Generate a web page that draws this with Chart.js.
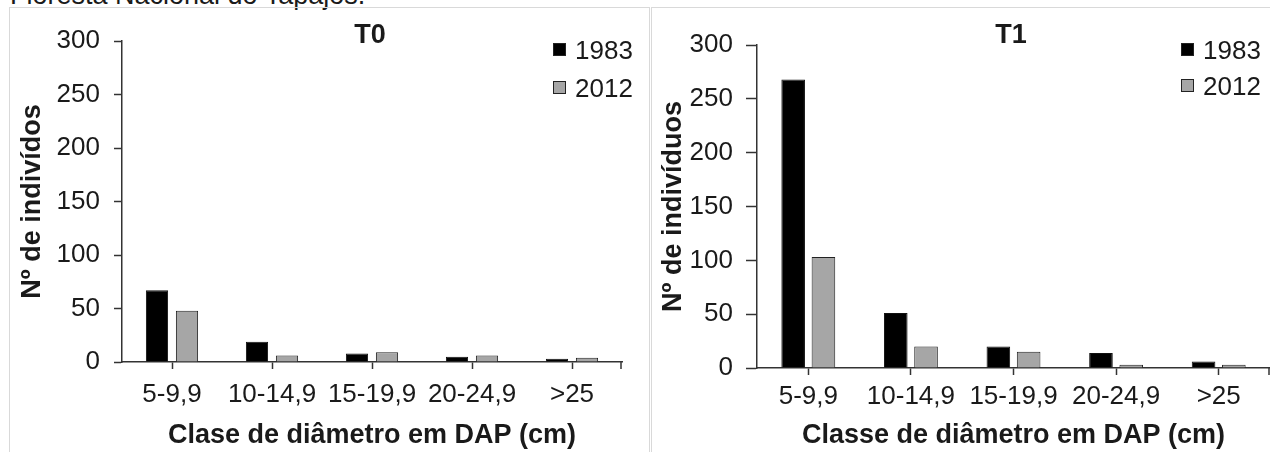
<!DOCTYPE html>
<html>
<head>
<meta charset="utf-8">
<title>Floresta Nacional do Tapajós</title>
<script src="https://cdn.jsdelivr.net/npm/chart.js@4.4.1/dist/chart.umd.min.js"></script>
<style>
    body {
        margin: 0;
        width: 1270px;
        height: 452px;
        overflow: hidden;
        position: relative;
        background: #ffffff;
        font-family: Arial, "Liberation Sans", sans-serif;
        color: #1a1a1a;
    }
    #top_text {
        position: absolute;
        left: 10px;
        top: -18px;
        font-size: 27px;
        line-height: 27px;
        white-space: nowrap;
    }
    .panel {
        position: absolute;
        top: 7px;
        height: 470px;
        border: 1px solid #d9d9d9;
    }
    #panel_t0 { left: 9px; width: 639px; }
    #panel_t1 { left: 651px; width: 640px; }
    canvas { position: absolute; top: 8px; }
    #chart_t0 { left: 10px; }
    #chart_t1 { left: 652px; }
    .chart_title {
        position: absolute;
        top: 21px;
        width: 100px;
        text-align: center;
        font-weight: bold;
        font-size: 27px;
        line-height: 27px;
    }
    .legend_box {
        position: absolute;
        width: 11px;
        height: 11px;
        border: 1px solid #222;
    }
    .legend_text {
        position: absolute;
        font-size: 26px;
        line-height: 26px;
        white-space: nowrap;
    }
</style>
</head>
<body>
<div id="top_text">Floresta Nacional do Tapajós.</div>
<div class="panel" id="panel_t0"></div>
<div class="panel" id="panel_t1"></div>
<canvas id="chart_t0" width="638" height="444"></canvas>
<canvas id="chart_t1" width="618" height="444"></canvas>
<div class="chart_title" id="title_t0" style="left:320px">T0</div>
<div class="chart_title" id="title_t1" style="left:961px">T1</div>
<div id="legend_t0"></div>
<div id="legend_t1"></div>

<script>
// Diameter classes on the x axis
const categories = ["5-9,9", "10-14,9", "15-19,9", "20-24,9", ">25"];
// Years of the two inventories
const seriesNames = ["1983", "2012"];

// T0 counts per class
const t0_1983 = [67, 19, 8, 5, 3];
const t0_2012 = [48, 6, 9, 6, 4];

// T1 counts per class
const t1_1983 = [268, 51, 20, 14, 6];
const t1_2012 = [103, 20, 15, 3, 3];

// y axis range
const yMin = 0;
const yMax = 300;
const yStep = 50;

const barColors = ["#000000", "#a6a6a6"];
const axisColor = "#333333";
const textColor = "#1a1a1a";

Chart.defaults.font.family = 'Arial, "Liberation Sans", sans-serif';
Chart.defaults.color = textColor;

// Small tick at the right end of the x axis, like the original plot
const endTick = {
    id: "endTick",
    afterDraw: function (chart) {
        let area = chart.chartArea;
        let c = chart.ctx;
        c.save();
        c.strokeStyle = axisColor;
        c.lineWidth = 1.5;
        c.beginPath();
        c.moveTo(area.right - 1, area.bottom);
        c.lineTo(area.right - 1, area.bottom + 7);
        c.stroke();
        c.restore();
    }
};

// Build one of the two bar charts
function makeChart(canvasId, values1983, values2012, o) {
    let ctx = document.getElementById(canvasId).getContext("2d");
    return new Chart(ctx, {
        type: "bar",
        data: {
            labels: categories,
            datasets: [{
                label: seriesNames[0],
                data: values1983,
                backgroundColor: barColors[0],
                borderColor: "#111111",
                borderWidth: 1
            }, {
                label: seriesNames[1],
                data: values2012,
                backgroundColor: barColors[1],
                borderColor: "#222222",
                borderWidth: 1
            }]
        },
        options: {
            responsive: false,
            animation: false,
            devicePixelRatio: 1,
            categoryPercentage: o.catPct,
            barPercentage: o.barPct,
            layout: { padding: o.padding },
            plugins: {
                legend: { display: false },
                tooltip: { enabled: false }
            },
            scales: {
                x: {
                    grid: {
                        drawOnChartArea: false,
                        drawTicks: true,
                        tickLength: 7,
                        offset: false,
                        color: axisColor,
                        tickWidth: 1.5
                    },
                    border: { color: axisColor, width: 1.5 },
                    ticks: {
                        autoSkip: false,
                        maxRotation: 0,
                        padding: o.xTickPad,
                        font: { size: 26 },
                        color: textColor
                    },
                    title: {
                        display: true,
                        text: o.xTitle,
                        font: { size: 27, weight: "bold" },
                        padding: { top: 0, bottom: 0 },
                        color: textColor
                    },
                    afterFit: function (scale) { scale.height = o.xHeight; }
                },
                y: {
                    min: yMin,
                    max: yMax,
                    grid: {
                        drawOnChartArea: false,
                        drawTicks: true,
                        tickLength: o.yTickLen,
                        color: axisColor,
                        tickWidth: 1.5
                    },
                    border: { color: axisColor, width: 1.5 },
                    ticks: {
                        stepSize: yStep,
                        padding: o.yTickPad,
                        font: { size: 26 },
                        color: textColor
                    },
                    title: {
                        display: true,
                        text: o.yTitle,
                        font: { size: 27, weight: "bold" },
                        padding: { top: o.yTitlePad, bottom: 0 },
                        color: textColor
                    },
                    afterFit: function (scale) { scale.width = o.yWidth; }
                }
            }
        },
        plugins: [endTick]
    });
}

// Legend made from the chart's own datasets, placed inside the plot
function makeLegend(chart, holderId, boxX, textX, rowTops) {
    let holder = document.getElementById(holderId);
    let content = "";
    chart.data.datasets.forEach(function (ds, i) {
        let top = rowTops[i];
        content += "<div class=\"legend_box\" style=\"left:" + boxX + "px;top:" + (top + 6) +
                   "px;background:" + ds.backgroundColor + "\"></div>";
        content += "<div class=\"legend_text\" style=\"left:" + textX + "px;top:" + top + "px\">" +
                   ds.label + "</div>";
    });
    holder.innerHTML = content;
}

let chartT0 = makeChart("chart_t0", t0_1983, t0_2012, {
    yTitle: "Nº de indivídos",
    xTitle: "Clase de diâmetro em DAP (cm)",
    padding: { top: 33, right: 26, left: 0, bottom: 0 },
    yWidth: 112,
    xHeight: 90,
    yTickLen: 8,
    yTickPad: 14,
    xTickPad: 10,
    yTitlePad: 6,
    catPct: 0.6,
    barPct: 0.74
});

let chartT1 = makeChart("chart_t1", t1_1983, t1_2012, {
    yTitle: "Nº de indivíduos",
    xTitle: "Classe de diâmetro em DAP (cm)",
    padding: { top: 37, right: 0, left: 0, bottom: 0 },
    yWidth: 105,
    xHeight: 84,
    yTickLen: 11,
    yTickPad: 13,
    xTickPad: 6,
    yTitlePad: 5,
    catPct: 0.59,
    barPct: 0.78
});

makeLegend(chartT0, "legend_t0", 553, 575, [37, 75]);
makeLegend(chartT1, "legend_t1", 1181, 1203, [37, 73]);
</script>
</body>
</html>
